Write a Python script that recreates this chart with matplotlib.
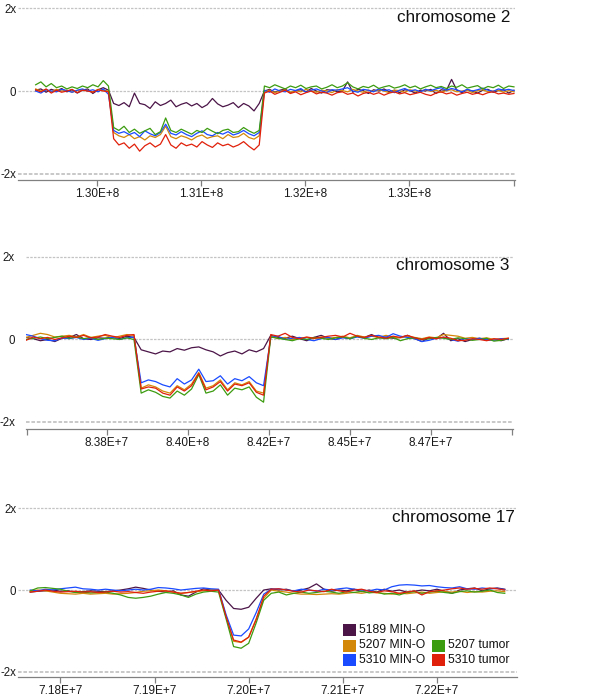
import numpy as np
import matplotlib
matplotlib.use("Agg")
import matplotlib.pyplot as plt
from matplotlib.patches import Rectangle

plt.rcParams['font.family'] = ['Liberation Sans', 'DejaVu Sans']

# ---------------- data ----------------
series_names = ["5189 MIN-O", "5207 MIN-O", "5310 MIN-O", "5207 tumor", "5310 tumor"]
series_colors = ["#4B1548", "#D4880A", "#1A4BFF", "#3C9C10", "#E0200A"]

# chromosome 2 : positions in Mb (start, step)
chr2_start, chr2_step = 129.41, 0.05
chr2_5189_mino = [0.02, 0.05, -0.03, 0.04, 0.0, 0.06, -0.02, 0.03, -0.05, 0.02, 0.05, -0.06, 0.03, 0.08, 0.02,
                  -0.30, -0.35, -0.28, -0.38, -0.05, -0.30, -0.33, -0.42, -0.26, -0.35, -0.30, -0.22, -0.38, -0.32, -0.28,
                  -0.36, -0.30, -0.40, -0.33, -0.18, -0.31, -0.38, -0.34, -0.28, -0.40, -0.30, -0.36, -0.48, -0.30,
                  0.0, 0.04, -0.03, 0.02, 0.05, -0.04, 0.01, 0.03, -0.02, 0.06, 0.0, -0.05, 0.03, 0.02, -0.02,
                  0.0, 0.22, -0.03, 0.04, 0.01, -0.06, 0.03, 0.0, 0.05, -0.02, 0.02, -0.04, 0.03, 0.01, -0.05,
                  0.02, 0.0, 0.04, -0.06, 0.03, 0.01, 0.28, 0.02, -0.04, 0.03, 0.0, -0.05, 0.02, 0.04, -0.03,
                  0.01, 0.03, -0.05, 0.02]
chr2_5207_mino = [0.05, 0.0, 0.03, -0.02, 0.04, 0.0, 0.02, -0.03, 0.01, 0.03, 0.0, -0.02, 0.04, 0.02, 0.0,
                  -1.0, -1.08, -1.12, -1.05, -1.15, -1.10, -1.18, -1.08, -1.12, -1.05, -0.85, -1.10, -1.15, -1.08, -1.12,
                  -1.18, -1.10, -1.06, -1.14, -1.10, -1.08, -1.15, -1.05, -1.12, -1.10, -1.02, -1.12, -1.16, -1.08,
                  -0.02, 0.02, -0.04, 0.0, 0.03, -0.03, 0.01, -0.02, 0.04, 0.0, -0.03, 0.02, 0.0, -0.04, 0.03,
                  0.01, -0.02, 0.04, 0.0, -0.03, 0.02, -0.01, 0.03, 0.0, -0.04, 0.02, 0.01, -0.03, 0.03, 0.0,
                  -0.02, 0.04, -0.01, 0.02, -0.03, 0.01, 0.03, -0.02, 0.0, 0.02, -0.04, 0.01, 0.03, -0.02, 0.0,
                  0.02, -0.03, 0.01, -0.02]
chr2_5310_mino = [0.0, -0.05, 0.03, 0.0, -0.02, 0.04, 0.01, -0.03, 0.02, 0.05, 0.0, 0.03, -0.02, 0.05, -0.08,
                  -0.95, -1.02, -0.98, -1.05, -1.00, -1.10, -0.96, -1.03, -1.08, -1.00, -0.80, -1.02, -1.06, -0.98, -1.05,
                  -1.10, -1.02, -0.96, -1.05, -1.08, -1.00, -1.04, -0.98, -1.06, -1.02, -0.95, -1.03, -1.08, -1.00,
                  0.02, -0.03, 0.05, 0.0, -0.02, 0.04, 0.01, 0.06, -0.03, 0.02, 0.05, 0.0, -0.04, 0.03, 0.02,
                  0.05, 0.08, 0.0, -0.03, 0.04, 0.02, -0.02, 0.05, 0.01, 0.03, -0.04, 0.02, 0.06, 0.0, 0.03,
                  -0.02, 0.04, 0.01, 0.05, 0.08, 0.02, 0.06, 0.03, -0.02, 0.04, 0.0, 0.03, 0.07, 0.02, -0.01,
                  0.05, 0.02, 0.04, 0.01]
chr2_5207_tumor = [0.15, 0.22, 0.10, 0.18, 0.08, 0.12, 0.05, 0.10, 0.06, 0.12, 0.08, 0.15, 0.10, 0.25, 0.12,
                   -0.88, -0.95, -0.85, -1.00, -0.92, -1.02, -0.96, -0.90, -1.05, -0.98, -0.65, -0.95, -1.00, -0.92, -0.98,
                   -1.04, -0.95, -1.00, -0.90, -0.97, -1.03, -0.95, -0.92, -1.00, -0.98, -0.88, -0.96, -1.02, -0.95,
                   0.12, 0.08, 0.15, 0.10, 0.05, 0.12, 0.08, 0.14, 0.06, 0.10, 0.12, 0.05, 0.09, 0.15, 0.08,
                   0.12, 0.20, 0.10, 0.05, 0.11, 0.08, 0.14, 0.06, 0.10, 0.13, 0.07, 0.10, 0.15, 0.08, 0.12,
                   0.05, 0.10, 0.14, 0.08, 0.11, 0.06, 0.12, 0.09, 0.15, 0.07, 0.10, 0.13, 0.05, 0.11, 0.08,
                   0.14, 0.06, 0.12, 0.10]
chr2_5310_tumor = [0.03, -0.02, 0.05, -0.05, 0.02, -0.03, 0.0, 0.04, -0.04, 0.02, 0.0, -0.03, 0.03, 0.0, -0.02,
                   -1.15, -1.30, -1.25, -1.38, -1.28, -1.45, -1.32, -1.25, -1.35, -1.28, -1.05, -1.30, -1.38, -1.25, -1.32,
                   -1.28, -1.35, -1.22, -1.30, -1.36, -1.25, -1.32, -1.28, -1.35, -1.30, -1.22, -1.33, -1.42, -1.30,
                   -0.05, 0.0, -0.08, -0.03, 0.02, -0.06, -0.02, -0.09, -0.04, 0.0, -0.07, -0.03, -0.05, -0.10, -0.04,
                   -0.02, -0.08, -0.05, -0.12, -0.06, -0.03, -0.08, -0.04, -0.10, -0.05, -0.02, -0.07, -0.04, -0.09, -0.06,
                   -0.03, -0.08, -0.11, -0.05, -0.02, -0.07, -0.04, -0.10, -0.06, -0.03, -0.08, -0.05, -0.09, -0.04, -0.02,
                   -0.07, -0.05, -0.08, -0.06]
chr2_ticks = [130.0, 131.0, 132.0, 133.0]
chr2_ticklabels = ["1.30E+8", "1.31E+8", "1.32E+8", "1.33E+8"]
chr2_xlim = (129.24, 134.02)

# chromosome 3
chr3_start, chr3_step = 83.555, 0.02
chr3_5189_mino = [0.05, 0.02, -0.03, 0.0, -0.05, 0.03, 0.05, 0.12, 0.02, 0.0, 0.04, 0.03, 0.06, 0.02, 0.08, 0.05,
                  -0.25, -0.30, -0.35, -0.28, -0.30, -0.22, -0.26, -0.20, -0.18, -0.25, -0.30, -0.40, -0.32, -0.28, -0.35,
                  -0.25, -0.30, -0.22,
                  0.10, 0.05, 0.03, 0.08, 0.02, -0.03, 0.05, 0.10, 0.03, 0.0, 0.06, 0.02, 0.08, 0.05, 0.12, 0.04, 0.06,
                  0.03, 0.05, 0.10, 0.02, -0.05, 0.04, 0.02, 0.15, -0.03, 0.02, -0.05, 0.0, 0.03, -0.02, 0.0, -0.03, 0.02]
chr3_5207_mino = [0.05, 0.10, 0.15, 0.12, 0.06, 0.08, 0.10, 0.06, 0.12, 0.05, 0.08, 0.10, 0.04, 0.08, 0.12, 0.10,
                  -1.18, -1.10, -1.15, -1.25, -1.30, -1.12, -1.22, -1.08, -0.80, -1.18, -1.12, -0.98, -1.22, -1.05, -1.10,
                  -1.02, -1.25, -1.30,
                  0.08, 0.02, 0.05, 0.0, 0.03, 0.05, 0.02, 0.06, 0.03, 0.05, 0.08, 0.04, 0.10, 0.06, 0.08, 0.05, 0.10,
                  0.06, 0.04, 0.08, 0.05, 0.02, 0.06, 0.04, 0.12, 0.10, 0.08, 0.03, 0.05, 0.02, 0.04, 0.0, 0.02, 0.03]
chr3_5310_mino = [0.12, 0.08, 0.02, -0.02, -0.03, 0.04, 0.02, 0.05, 0.0, 0.03, -0.02, 0.02, 0.05, 0.0, 0.04, 0.06,
                  -1.05, -0.98, -1.02, -1.10, -1.15, -0.95, -1.08, -0.98, -0.72, -1.02, -1.00, -0.88, -1.08, -0.95, -1.00,
                  -0.90, -1.05, -1.12,
                  0.05, 0.08, 0.0, 0.03, 0.05, 0.0, -0.03, 0.02, 0.05, 0.0, 0.04, 0.02, 0.06, 0.03, 0.08, 0.10, 0.05,
                  0.14, 0.08, 0.05, 0.02, -0.05, -0.02, 0.03, 0.05, 0.0, -0.04, 0.02, 0.0, 0.03, 0.0, -0.02, 0.02, 0.0]
chr3_5207_tumor = [0.0, 0.03, 0.06, 0.02, 0.05, 0.08, 0.03, 0.06, 0.02, 0.05, 0.0, 0.03, 0.02, 0.0, 0.04, 0.0,
                   -1.30, -1.22, -1.28, -1.38, -1.42, -1.25, -1.35, -1.20, -0.85, -1.30, -1.25, -1.10, -1.35, -1.18, -1.22,
                   -1.15, -1.40, -1.52,
                   0.06, 0.03, 0.0, -0.03, 0.02, 0.0, 0.05, 0.03, 0.0, 0.04, 0.06, 0.02, 0.08, 0.03, 0.0, 0.04, 0.02,
                   0.05, -0.03, 0.02, 0.04, 0.0, 0.02, 0.05, 0.03, 0.0, 0.04, 0.02, -0.02, 0.0, 0.03, -0.04, -0.02, 0.02]
chr3_5310_tumor = [-0.02, 0.06, 0.02, 0.05, 0.0, 0.04, 0.08, 0.05, 0.10, 0.04, 0.06, 0.12, 0.08, 0.05, 0.10, 0.12,
                   -1.20, -1.15, -1.18, -1.30, -1.35, -1.15, -1.25, -1.12, -0.82, -1.22, -1.15, -1.02, -1.25, -1.08, -1.12,
                   -1.05, -1.28, -1.35,
                   0.12, 0.08, 0.15, 0.05, 0.02, 0.06, 0.03, 0.05, 0.08, 0.10, 0.06, 0.15, 0.08, 0.05, 0.10, 0.06, 0.03,
                   0.08, 0.05, 0.10, 0.04, 0.0, 0.05, 0.02, 0.06, 0.03, -0.03, -0.02, 0.02, 0.0, -0.03, 0.02, 0.0, 0.03]
chr3_ticks = [83.78, 84.005, 84.23, 84.455, 84.68]
chr3_ticklabels = ["8.38E+7", "8.40E+8", "8.42E+7", "8.45E+7", "8.47E+7"]
chr3_xlim = (83.555, 84.908)

# chromosome 17
chr17_start, chr17_step = 71.768, 0.008
chr17_5189_mino = [-0.05, -0.03, -0.02, 0.0, -0.03, -0.02, -0.05, -0.04, -0.02, -0.03, -0.04, -0.02, 0.0, 0.03, 0.07,
                   0.04, 0.0, -0.03, -0.05, -0.02, -0.12, -0.15, -0.05, 0.03, 0.0,
                   0.0, -0.25, -0.45, -0.47, -0.42, -0.2, 0.0, 0.03,
                   0.0, 0.02, -0.03, 0.0, 0.05, 0.15, 0.02, -0.03, 0.0, -0.02, 0.02, -0.04, 0.0, -0.05, 0.02, -0.03,
                   0.0, -0.05, -0.03, 0.0, -0.02, 0.02, -0.03, -0.08, 0.0, 0.03, 0.05, -0.02, 0.03, 0.05, 0.02]
chr17_5207_mino = [-0.03, 0.0, -0.02, -0.05, -0.08, -0.09, -0.1, -0.08, -0.1, -0.09, -0.08, -0.1, -0.09, -0.08, -0.06,
                   -0.03, -0.02, 0.0, -0.02, -0.05, -0.08, -0.06, -0.04, -0.02, 0.0,
                   0.0, -0.65, -1.25, -1.28, -1.15, -0.7, -0.2, 0.0,
                   -0.03, -0.05, -0.08, -0.1, -0.1, -0.11, -0.1, -0.09, -0.1, -0.08, -0.06, -0.08, -0.05, -0.07, -0.08,
                   -0.1, -0.08, -0.09, -0.07, -0.05, -0.08, -0.06, -0.04, -0.05, -0.03, -0.06, -0.04, -0.05, -0.03, -0.02,
                   -0.04]
chr17_5310_mino = [0.0, -0.02, 0.02, 0.0, 0.03, 0.05, 0.07, 0.03, 0.02, 0.0, 0.02, 0.0, -0.02, 0.0, 0.02,
                   0.0, 0.02, 0.06, 0.05, 0.03, 0.0, 0.02, 0.04, 0.05, 0.03,
                   0.02, -0.6, -1.1, -1.12, -0.95, -0.55, -0.1, 0.02,
                   0.03, 0.0, -0.02, 0.02, 0.0, -0.03, 0.02, 0.0, 0.03, 0.05, 0.02, 0.0, -0.02, 0.02, 0.0,
                   0.08, 0.12, 0.13, 0.12, 0.10, 0.11, 0.08, 0.06, 0.05, 0.08, 0.03, 0.02, 0.05, 0.03, 0.04, 0.01]
chr17_5207_tumor = [-0.02, 0.05, 0.06, 0.04, 0.02, -0.03, -0.06, -0.05, -0.07, -0.06, -0.05, -0.08, -0.12, -0.18, -0.2,
                    -0.18, -0.15, -0.1, -0.06, -0.08, -0.12, -0.18, -0.1, -0.05, -0.03,
                    -0.05, -0.7, -1.38, -1.42, -1.3, -0.8, -0.25, -0.08,
                    -0.05, -0.12, -0.08, -0.05, -0.08, -0.06, -0.03, -0.05, -0.08, -0.04, -0.06, -0.03, -0.07, -0.05, -0.1,
                    -0.08, -0.12, -0.06, -0.04, -0.08, -0.05, -0.03, -0.06, -0.08, -0.04, -0.02, -0.05, -0.03, 0.0, -0.06,
                    -0.08]
chr17_5310_tumor = [-0.05, -0.03, 0.0, -0.03, -0.05, -0.04, -0.03, -0.05, -0.04, -0.06, -0.05, -0.03, -0.05, -0.04, -0.06,
                    -0.08, -0.05, -0.03, -0.02, -0.05, -0.08, -0.06, -0.03, 0.0, -0.02,
                    0.0, -0.65, -1.22, -1.27, -1.15, -0.72, -0.15, 0.02,
                    0.03, 0.0, -0.03, -0.05, 0.0, -0.02, -0.04, 0.02, -0.02, -0.05, 0.0, 0.02, -0.03, -0.06, -0.02,
                    -0.04, -0.08, -0.05, -0.02, -0.12, -0.04, -0.02, 0.0, 0.03, 0.05, 0.02, 0.04, 0.02, 0.05, 0.03, 0.0]
chr17_ticks = [71.8, 71.9, 72.0, 72.1, 72.2]
chr17_ticklabels = ["7.18E+7", "7.19E+7", "7.20E+7", "7.21E+7", "7.22E+7"]
chr17_xlim = (71.755, 72.285)

ytick_values = [-2, 0, 2]
ytick_labels = ["-2x", "0", "2x"]

panel_titles = ["chromosome 2", "chromosome 3", "chromosome 17"]

# ---------------- figure ----------------
W, H = 600, 696
fig = plt.figure(figsize=(W / 100, H / 100), dpi=100)

def px_axes(left, right, bottom_px, top_px):
    return fig.add_axes([left / W, 1 - bottom_px / H, (right - left) / W, (bottom_px - top_px) / H])

panels = [
    dict(ax=px_axes(18, 515, 180, 1.8), ylim=(-2.145, 2.15), start=chr2_start, step=chr2_step,
         data=[chr2_5189_mino, chr2_5207_mino, chr2_5310_mino, chr2_5207_tumor, chr2_5310_tumor],
         ticks=chr2_ticks, labels=chr2_ticklabels, xlim=chr2_xlim, end_ticks=[chr2_xlim[1] - 0.01],
         title_xy=(510, 18), ypad=1.2),
    dict(ax=px_axes(26, 513, 429, 250.8), ylim=(-2.17, 2.15), start=chr3_start, step=chr3_step,
         data=[chr3_5189_mino, chr3_5207_mino, chr3_5310_mino, chr3_5207_tumor, chr3_5310_tumor],
         ticks=chr3_ticks, labels=chr3_ticklabels, xlim=chr3_xlim,
         end_ticks=[chr3_xlim[0] + 0.002, chr3_xlim[1] - 0.002], title_xy=(509, 265), ypad=8),
    dict(ax=px_axes(18, 517, 677, 501.9), ylim=(-2.122, 2.15), start=chr17_start, step=chr17_step,
         data=[chr17_5189_mino, chr17_5207_mino, chr17_5310_mino, chr17_5207_tumor, chr17_5310_tumor],
         ticks=chr17_ticks, labels=chr17_ticklabels, xlim=chr17_xlim, end_ticks=[],
         title_xy=(515, 517), ypad=1.2),
]

draw_order = [0, 1, 2, 3, 4]
for p, title in zip(panels, panel_titles):
    ax = p["ax"]
    for yv in ytick_values:
        ax.axhline(yv, color="#c4c4c4", lw=0.9 if yv != -2 else 1.3, ls=(0, (2, 1)), zorder=1)
    for k in draw_order:
        vals = np.asarray(p["data"][k])
        xs = p["start"] + p["step"] * np.arange(len(vals))
        ax.plot(xs, vals, color=series_colors[k], lw=0.9, zorder=2 + k)
    ax.set_xlim(*p["xlim"])
    ax.set_ylim(*p["ylim"])
    ax.set_yticks(ytick_values)
    ax.set_yticklabels(ytick_labels)
    ax.set_xticks(p["ticks"])
    ax.set_xticklabels(p["labels"])
    if p["end_ticks"]:
        ax.set_xticks(p["end_ticks"], minor=True)
    for s in ["top", "right", "left"]:
        ax.spines[s].set_visible(False)
    ax.spines["bottom"].set_color("#808080")
    ax.spines["bottom"].set_linewidth(0.9)
    ax.tick_params(axis="x", which="both", direction="out", length=4, width=0.9, color="#808080",
                   labelsize=8.5, pad=2, labelcolor="#1a1a1a")
    ax.tick_params(axis="y", length=0, labelsize=8.3, pad=p["ypad"], labelcolor="#1a1a1a")
    ax.patch.set_alpha(0)
    fig.text(p["title_xy"][0] / W, 1 - p["title_xy"][1] / H, title, ha="right", va="center",
             fontsize=12.3, color="#111111")

# legend (manual, bottom panel)
legend_slots = [(343, 630), (343, 645.5), (343, 660), (432, 645.5), (432, 660)]
for (lx, ly), name, col in zip(legend_slots, series_names, series_colors):
    fig.patches.append(Rectangle((lx / W, 1 - (ly + 6) / H), 13 / W, 12 / H,
                                 transform=fig.transFigure, facecolor=col, edgecolor="none"))
    fig.text((lx + 16) / W, 1 - ly / H, name, ha="left", va="center", fontsize=8.7, color="#111111")

fig.savefig("out.png", dpi=100)
